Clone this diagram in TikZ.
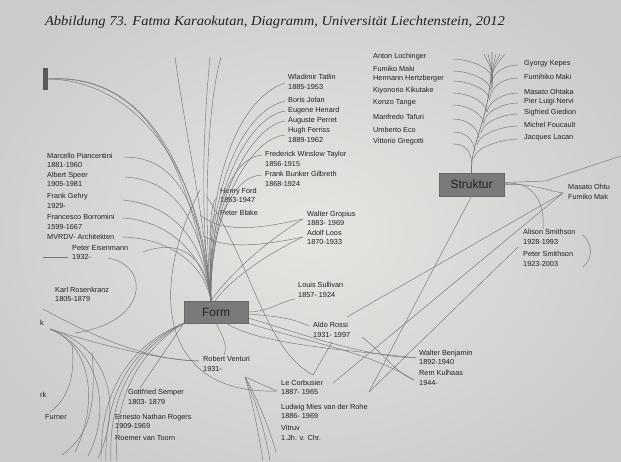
\documentclass[tikz,border=0pt]{standalone}
\usepackage{fontspec}
\setmainfont{Liberation Serif}
\newfontfamily\labfont{Liberation Sans}
\usepackage{graphicx}
\definecolor{paperin}{RGB}{229,229,226}
\definecolor{paperout}{RGB}{203,204,201}
\definecolor{linec}{RGB}{118,118,118}
\definecolor{boxc}{RGB}{122,122,122}
\definecolor{txt}{RGB}{32,32,32}
\begin{document}
\begin{tikzpicture}[x=1pt,y=-1pt,
  lab/.style={font=\labfont\fontsize{7.3}{9.5}\selectfont, inner sep=0pt, anchor=west, align=left, text=txt},
  ln/.style={draw=linec, line width=0.45pt},
  boxnode/.style={fill=boxc, draw=boxc!85!black, line width=0.3pt, inner sep=0pt,
     font=\labfont\fontsize{12}{13}\selectfont, text=txt}]
\useasboundingbox (0,0) rectangle (621,461);
\shade[inner color=paperin, outer color=paperout] (-60,-60) rectangle (681,521);
% caption
\node[inner sep=0pt, text=txt] (cap) at (275,22)
  {\resizebox{460pt}{\height}{\fontsize{13.5}{15}\selectfont\itshape Abbildung 73. Fatma Karaokutan, Diagramm, Universität Liechtenstein, 2012}};
% boxes
\node[boxnode, minimum width=64pt, minimum height=22pt] (form) at (216,312) {Form};
\node[boxnode, minimum width=65pt, minimum height=23pt] (struk) at (471.5,184.5) {Struktur};
\node[fill=black!65, inner sep=0pt, minimum width=4.5pt, minimum height=22pt] (bar) at (45.7,79) {};
% labels centre group
\node[lab] (tatlin) at (288,82) {Wladimir Tatlin\\1885-1953};
\node[lab] (jofan) at (288,100) {Boris Jofan};
\node[lab] (henard) at (288,111) {Eugene Henard};
\node[lab] (perret) at (288,120.5) {Auguste Perret};
\node[lab] (ferriss) at (288,135) {Hugh Ferriss\\1889-1962};
\node[lab] (taylor) at (265,159) {Frederick Winslow Taylor\\1856-1915};
\node[lab] (gilbreth) at (265,179) {Frank Bunker Gilbreth\\1868-1924};
\node[lab] (ford) at (220,195.5) {Henry Ford\\1863-1947};
\node[lab] (blake) at (220,213) {Peter Blake};
\node[lab] (gropius) at (307,218.5) {Walter Gropius\\1883- 1969};
\node[lab] (loos) at (307,237.5) {Adolf Loos\\1870-1933};
\node[lab] (sullivan) at (298,290) {Louis Sullivan\\1857- 1924};
\node[lab] (rossi) at (313,330) {Aldo Rossi\\1931- 1997};
\node[lab] (venturi) at (203,364) {Robert Venturi\\1931-};
\node[lab] (benjamin) at (419,357.5) {Walter Benjamin\\1892-1940};
\node[lab] (kulhaas) at (419,378) {Rem Kulhaas\\1944-};
\node[lab] (corbusier) at (281,387.5) {Le Corbusier\\1887- 1965};
\node[lab] (mies) at (281,411.5) {Ludwig Mies van der Rohe\\1886- 1969};
\node[lab] (vitruv) at (281,433) {Vitruv\\1.Jh. v. Chr.};
\node[lab] (semper) at (128,397) {Gottfried Semper\\1803- 1879};
\node[lab] (rogers) at (115,421.5) {Ernesto Nathan Rogers\\1909-1969};
\node[lab] (toorn) at (115,438) {Roemer van Toorn};
% labels left group
\node[lab] (pia) at (47,160.5) {Marcello Piancentini\\1881-1960};
\node[lab] (speer) at (47,179.5) {Albert Speer\\1905-1981};
\node[lab] (gehry) at (47,201) {Frank Gehry\\1929-};
\node[lab] (borr) at (47,222) {Francesco Borromini\\1599-1667};
\node[lab] (mvrdv) at (47,237) {MVRDV- Architekten};
\node[lab] (eis) at (72,252.5) {Peter Eisenmann\\1932-};
\node[lab] (rosen) at (55,294.5) {Karl Rosenkranz\\1805-1879};
\node[lab] (kk) at (40,323) {k};
\node[lab] (rk) at (40,395) {rk};
\node[lab] (furner) at (45,417) {Furner};
% labels Struktur group
\node[lab] (loch) at (373,57) {Anton Lochinger};
\node[lab] (fumiko) at (373,69) {Fumiko Maki};
\node[lab] (hertz) at (373,79) {Hermann Hertzberger};
\node[lab] (kiku) at (373,91) {Kiyonorio Kikutake};
\node[lab] (tange) at (373,103) {Kenzo Tange};
\node[lab] (tafuri) at (373,117) {Manfredo Tafuri};
\node[lab] (eco) at (373,130) {Umberto Eco};
\node[lab] (greg) at (373,142) {Vittorio Gregotti};
\node[lab] (kepes) at (524,64) {Gyorgy Kepes};
\node[lab] (fmaki) at (524,77) {Fumihiko Maki};
\node[lab] (ohtaka) at (524,92) {Masato Ohtaka};
\node[lab] (nervi) at (524,102) {Pier Luigi Nervi};
\node[lab] (giedion) at (524,113) {Sigfried Giedion};
\node[lab] (foucault) at (524,125) {Michel Foucault};
\node[lab] (lacan) at (524,138) {Jacques Lacan};
\node[lab] (ohtu) at (568,192) {Masato Ohtu\\Fumiko Mak};
\node[lab] (alison) at (523,237) {Alison Smithson\\1928-1993};
\node[lab] (peter) at (523,259) {Peter Smithson\\1923-2003};
% coordinates
\coordinate (hub) at ([xshift=-5pt]form.north);
\coordinate (t1) at (175,57); \coordinate (t2) at (210,57); \coordinate (t3) at (221,57);
\coordinate (e-tat) at (285,83); \coordinate (e-jof) at (285,101); \coordinate (e-hen) at (285,111);
\coordinate (e-per) at (285,121); \coordinate (e-fer) at (285,135); \coordinate (e-tay) at (262,155);
\coordinate (e-gil) at (262,175); \coordinate (e-for) at (217,197); \coordinate (e-bla) at (217,213);
\coordinate (e-pia) at (124,157); \coordinate (e-spe) at (125,177); \coordinate (e-geh) at (123,200);
\coordinate (e-bor) at (122,218); \coordinate (e-mvr) at (122,237); \coordinate (e-eis) at (143,252);
\coordinate (s1) at (43,257); \coordinate (s2) at (68,257);
\coordinate (e-gro) at (303,219); \coordinate (e-loo) at (303,237);
\coordinate (e-sul) at (295,299); \coordinate (e-ros) at (309,326);
\coordinate (r-tr) at (347,317); \coordinate (r-br) at (362,337); \coordinate (r-bl) at (332,342);
\coordinate (c-top) at (313,375); \coordinate (c-l) at (277,391); \coordinate (c-r) at (333,383);
\coordinate (m-r) at (369,392); \coordinate (b-l) at (416,358); \coordinate (k-l) at (414,380);
\coordinate (o-l) at (563,193); \coordinate (a-t) at (543,229); \coordinate (p-l) at (518,247);
\coordinate (tr) at (621,156); \coordinate (tr-mid) at (545,181);
\coordinate (v-r) at (245,377); \coordinate (v-l) at (199,361); \coordinate (v-t) at (224,355);
\coordinate (vb1) at (263,461); \coordinate (vb2) at (270,461); \coordinate (vb3) at (276,452);
\coordinate (se) at (140,388);
\coordinate (A) at (50,329); \coordinate (L1) at (43,309);
\coordinate (bl1) at (75,452); \coordinate (bl2) at (88,456); \coordinate (bl3) at (98,458);
\coordinate (fb1) at (101,461); \coordinate (fb2) at (106,461); \coordinate (fb3) at (111,461); \coordinate (fb4) at (117,461);
\coordinate (ka) at (108,258); \coordinate (kb) at (75,333);
\coordinate (la1) at (72,345); \coordinate (la2) at (50,412); \coordinate (lb1) at (92,352); \coordinate (lb2) at (62,455);
\coordinate (bz1) at (200,190); \coordinate (bz2) at (207,197); \coordinate (bz3) at (200,215); \coordinate (bz4) at (204,236);
\coordinate (sb1) at (583,235); \coordinate (sb2) at (583,267);
% central bundle
\draw[ln] (bar.east) .. controls (140,72) and (196,160) .. (hub);
\draw[ln] (bar.east) .. controls (150,74) and (190,170) .. (hub);
\draw[ln] (bar.east) .. controls (125,80) and (200,150) .. (hub);
\draw[ln] (t1) .. controls (185,130) and (205,220) .. (hub);
\draw[ln] (t2) .. controls (203,130) and (200,220) .. (hub);
\draw[ln] (t3) .. controls (206,110) and (204,220) .. (hub);
% right fan
\draw[ln] (hub) .. controls (205,190) and (235,100) .. (e-tat);
\draw[ln] (hub) .. controls (206,195) and (240,112) .. (e-jof);
\draw[ln] (hub) .. controls (207,200) and (245,118) .. (e-hen);
\draw[ln] (hub) .. controls (208,205) and (250,126) .. (e-per);
\draw[ln] (hub) .. controls (209,210) and (250,138) .. (e-fer);
\draw[ln] (hub) .. controls (209,215) and (230,158) .. (e-tay);
\draw[ln] (hub) .. controls (210,225) and (232,176) .. (e-gil);
\draw[ln] (hub) .. controls (209,240) and (209,205) .. (e-for);
\draw[ln] (hub) .. controls (209,250) and (209,215) .. (e-bla);
% left fan
\draw[ln] (e-pia) .. controls (175,157) and (200,200) .. (hub);
\draw[ln] (e-spe) .. controls (175,180) and (202,220) .. (hub);
\draw[ln] (e-geh) .. controls (170,205) and (203,235) .. (hub);
\draw[ln] (e-bor) .. controls (165,220) and (203,250) .. (hub);
\draw[ln] (e-mvr) .. controls (165,238) and (203,260) .. (hub);
\draw[ln] (e-eis) .. controls (175,240) and (205,250) .. (hub);
\draw[ln] (s1) -- (s2);
% Gropius, Loos
\draw[ln] (bz3) .. controls (225,236) and (270,226) .. (e-gro);
\draw[ln] (bz4) .. controls (225,250) and (265,245) .. (e-loo);
\draw[ln] (e-gro) .. controls (260,245) and (225,280) .. (hub);
\draw[ln] (e-loo) .. controls (265,255) and (230,280) .. ([xshift=4pt]hub);
% Le Corbusier curves
\draw[ln] (bz2) .. controls (250,260) and (265,350) .. (c-top);
\draw[ln] (c-top) -- (r-bl);
\draw[ln] (bz1) .. controls (148,290) and (160,395) .. (c-l);
% Form right
\draw[ln] (form.east) .. controls (268,312) and (282,301) .. (e-sul);
\draw[ln] ([yshift=-2pt]form.east) .. controls (275,316) and (292,318) .. (e-ros);
\draw[ln] ([yshift=-6pt]form.east) .. controls (300,333) and (360,356) .. (b-l);
\draw[ln] ([xshift=10pt]form.south) .. controls (260,345) and (350,350) .. (b-l);
\draw[ln] (form.south east) .. controls (300,340) and (370,352) .. (k-l);
\draw[ln] (r-br) .. controls (385,355) and (395,372) .. (k-l);
\draw[ln] (r-tr) -- (o-l);
\draw[ln] (c-r) -- (o-l);
\draw[ln] (m-r) -- (p-l);
\draw[ln] (struk.south) -- (m-r);
% Struktur right
\draw[ln] (struk.east) .. controls (530,183) and (545,190) .. (o-l);
\draw[ln] ([yshift=1pt]struk.east) .. controls (535,180) and (545,205) .. (a-t);
\draw[ln] ([yshift=2pt]struk.east) -- (tr-mid) -- (tr);
\draw[ln] (sb1) .. controls (593,245) and (593,258) .. (sb2);
% Venturi region
\draw[ln] (form.south) .. controls (222,335) and (228,345) .. (v-t);
\draw[ln] (v-r) -- (c-l);
\draw[ln] (v-r) .. controls (252,400) and (258,430) .. (vb1);
\draw[ln] (v-r) .. controls (255,400) and (265,430) .. (vb2);
\draw[ln] (v-r) .. controls (258,400) and (270,430) .. (vb3);
\draw[ln] (se) -- (form.south west);
% bottom-left
\draw[ln] (A) .. controls (100,345) and (160,360) .. (v-l);
\draw[ln] (L1) .. controls (100,340) and (150,360) .. (v-l);
\draw[ln] (A) .. controls (90,345) and (100,400) .. (bl1);
\draw[ln] (A) .. controls (100,350) and (112,410) .. (bl2);
\draw[ln] (A) .. controls (105,345) and (125,400) .. (bl3);
\draw[ln] (form.south west) .. controls (130,345) and (100,390) .. (fb1);
\draw[ln] (form.south west) .. controls (133,347) and (104,392) .. (fb2);
\draw[ln] (form.south west) .. controls (136,349) and (108,394) .. (fb3);
\draw[ln] (form.south west) .. controls (140,351) and (113,396) .. (fb4);
\draw[ln] (ka) .. controls (150,265) and (150,322) .. (kb);
\draw[ln] (la1) .. controls (76,380) and (66,400) .. (la2);
\draw[ln] (lb1) .. controls (98,420) and (82,440) .. (lb2);
% Struktur tree
\coordinate (trk0) at (492,52);
\draw[ln, line width=0.7pt] (struk.north) .. controls (470,140) and (492,120) .. (trk0);
\foreach \sx/\sy/\ey in {492/78/59, 491/90/71, 490/100/81, 487/112/93, 484/124/105, 479/138/119, 475/151/132, 472/163/144}{
  \draw[ln] (\sx,\sy) .. controls (\sx-2,\sy-12) and (466,\ey) .. (453,\ey);
}
\foreach \sx/\sy/\ey in {491/84/65, 490/97/78, 487/112/93, 484/122/103, 481/133/114, 477/145/126, 474/158/139}{
  \draw[ln] (\sx,\sy) .. controls (\sx+2,\sy-12) and (505,\ey) .. (518,\ey);
}
\foreach \ex in {484,488,496,500,505}{
  \draw[ln] (492,88) .. controls (492,70) .. (\ex,54);
}
\end{tikzpicture}
\end{document}
